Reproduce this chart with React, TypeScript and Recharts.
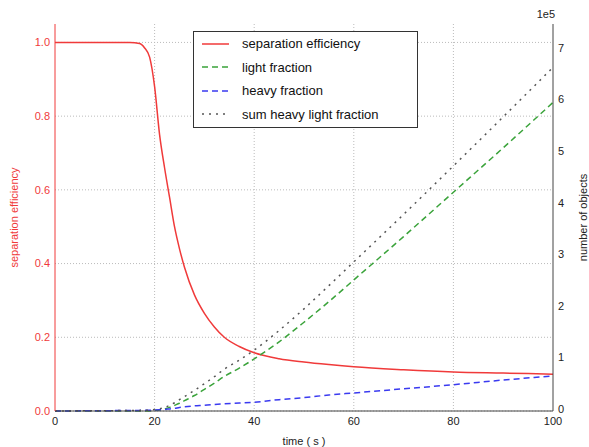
import React from 'react';
import { LineChart, Line, XAxis, YAxis, CartesianGrid, Legend, Label } from 'recharts';

// time in seconds
const time = [0, 5, 10, 15, 17, 18, 19, 20, 21, 22, 23, 24, 25, 26, 28, 30, 32, 34, 37, 40, 45, 50, 55, 60, 70, 80, 90, 100];
const efficiency = [1, 1, 1, 1, 0.997, 0.985, 0.96, 0.88, 0.75, 0.66, 0.58, 0.5, 0.44, 0.39, 0.315, 0.265, 0.228, 0.2, 0.175, 0.158, 0.142, 0.133, 0.126, 0.12, 0.112, 0.106, 0.103, 0.1];
const lightFraction = [0, 0, 0, 0, 0, 0, 0, 1000, 2000, 4000, 7000, 11000, 15000, 20000, 30000, 42000, 54000, 67000, 83000, 101000, 134000, 172000, 212000, 254000, 338000, 424000, 510000, 598000];
const heavyFraction = [0, 300, 600, 1000, 1200, 1300, 1500, 2000, 2500, 3000, 4000, 5000, 7000, 8000, 10000, 11000, 12500, 14000, 15500, 17000, 22000, 26000, 31000, 35000, 43000, 51000, 60000, 68000];
const sumFraction = [0, 300, 600, 1000, 1200, 1300, 1500, 3000, 4500, 7000, 11000, 16000, 22000, 28000, 40000, 53000, 66500, 81000, 98500, 118000, 156000, 198000, 243000, 289000, 381000, 475000, 570000, 666000];

const xTicks = [0, 20, 40, 60, 80, 100];
const leftTicks = [0, 0.2, 0.4, 0.6, 0.8, 1.0];
const rightTicks = [0, 100000, 200000, 300000, 400000, 500000, 600000, 700000];

const data = time.map((t, i) => ({
  t,
  eff: efficiency[i],
  light: lightFraction[i],
  heavy: heavyFraction[i],
  sum: sumFraction[i],
}));

const RED = '#f03a3a';
const GREEN = '#3aa33a';
const BLUE = '#3a3af0';
const GRAY = '#555555';
const FONT = '"Liberation Sans", Arial, sans-serif';

const legendItems = [
  { name: 'separation efficiency', color: RED, dash: undefined },
  { name: 'light fraction', color: GREEN, dash: '6 4' },
  { name: 'heavy fraction', color: BLUE, dash: '6 4' },
  { name: 'sum heavy light fraction', color: GRAY, dash: '2 5' },
];

const renderLegend = () => (
  <div
    style={{
      border: '1px solid #333',
      background: 'white',
      width: 225,
      height: 97,
      boxSizing: 'border-box',
      fontFamily: FONT,
      fontSize: 13,
      color: '#111',
    }}
  >
    {legendItems.map((item) => (
      <div key={item.name} style={{ display: 'flex', alignItems: 'center', height: 23.5 }}>
        <svg width={48} height={10} style={{ flex: 'none' }}>
          <line x1={8} x2={35} y1={5} y2={5} stroke={item.color} strokeWidth={1.5} strokeDasharray={item.dash} />
        </svg>
        <span>{item.name}</span>
      </div>
    ))}
  </div>
);

const App: React.FC = () => {
  return (
    <div style={{ position: 'absolute', left: 0, top: 0, background: 'white' }}>
      <LineChart width={589} height={447} data={data} margin={{ top: 24, right: 0, left: 0, bottom: 0 }}>
        <CartesianGrid
          yAxisId="left"
          stroke="#bbbbbb"
          strokeDasharray="1 2"
          horizontalValues={leftTicks}
          verticalValues={[20, 40, 60, 80]}
        />
        <XAxis
          dataKey="t"
          type="number"
          domain={[0, 100]}
          ticks={xTicks}
          height={36}
          tickSize={0}
          tickMargin={6}
          axisLine={{ stroke: '#444' }}
          tick={{ fill: '#222', fontSize: 11, fontFamily: FONT }}
        >
          <Label value="time ( s )" position="insideBottom" offset={2} style={{ fill: '#222', fontSize: 11, fontFamily: FONT }} />
        </XAxis>
        <XAxis xAxisId="top" dataKey="t" type="number" domain={[0, 100]} orientation="top" height={0} tick={false} tickLine={false} axisLine={{ stroke: '#444' }} />
        <YAxis
          yAxisId="left"
          domain={[0, 1.05]}
          ticks={leftTicks}
          width={55}
          tickSize={0}
          tickMargin={5}
          axisLine={{ stroke: RED }}
          tickFormatter={(v: number) => v.toFixed(1)}
          tick={{ fill: RED, fontSize: 11, fontFamily: FONT }}
        >
          <Label value="separation efficiency" angle={-90} position="insideLeft" offset={14} style={{ fill: RED, fontSize: 11, fontFamily: FONT, textAnchor: 'middle' }} />
        </YAxis>
        <YAxis
          yAxisId="right"
          orientation="right"
          domain={[0, 750000]}
          ticks={rightTicks}
          width={36}
          tickSize={0}
          tickMargin={5}
          axisLine={{ stroke: '#444' }}
          tickFormatter={(v: number) => String(Math.round(v / 100000))}
          tick={{ fill: '#222', fontSize: 11, fontFamily: FONT, dy: -2 }}
        >
          <Label value="number of objects" angle={-90} position="insideRight" offset={6} style={{ fill: '#222', fontSize: 11, fontFamily: FONT, textAnchor: 'middle' }} />
          <Label
            content={({ viewBox }: any) => (
              <text x={viewBox.x + 2} y={viewBox.y - 6} textAnchor="end" fill="#222" fontSize={11} fontFamily={FONT}>
                1e5
              </text>
            )}
          />
        </YAxis>
        <Legend
          layout="horizontal"
          verticalAlign="middle"
          content={renderLegend}
          wrapperStyle={{ position: 'absolute', left: 193, top: 31, width: 225 }}
        />
        <Line yAxisId="left" type="monotone" dataKey="eff" name="separation efficiency" stroke={RED} strokeWidth={1.5} dot={false} isAnimationActive={false} />
        <Line yAxisId="right" type="monotone" dataKey="light" name="light fraction" stroke={GREEN} strokeWidth={1.5} strokeDasharray="6 4" dot={false} isAnimationActive={false} />
        <Line yAxisId="right" type="monotone" dataKey="heavy" name="heavy fraction" stroke={BLUE} strokeWidth={1.5} strokeDasharray="6 4" dot={false} isAnimationActive={false} />
        <Line yAxisId="right" type="monotone" dataKey="sum" name="sum heavy light fraction" stroke={GRAY} strokeWidth={1.5} strokeDasharray="2 5" dot={false} isAnimationActive={false} />
      </LineChart>
    </div>
  );
};

export default App;
